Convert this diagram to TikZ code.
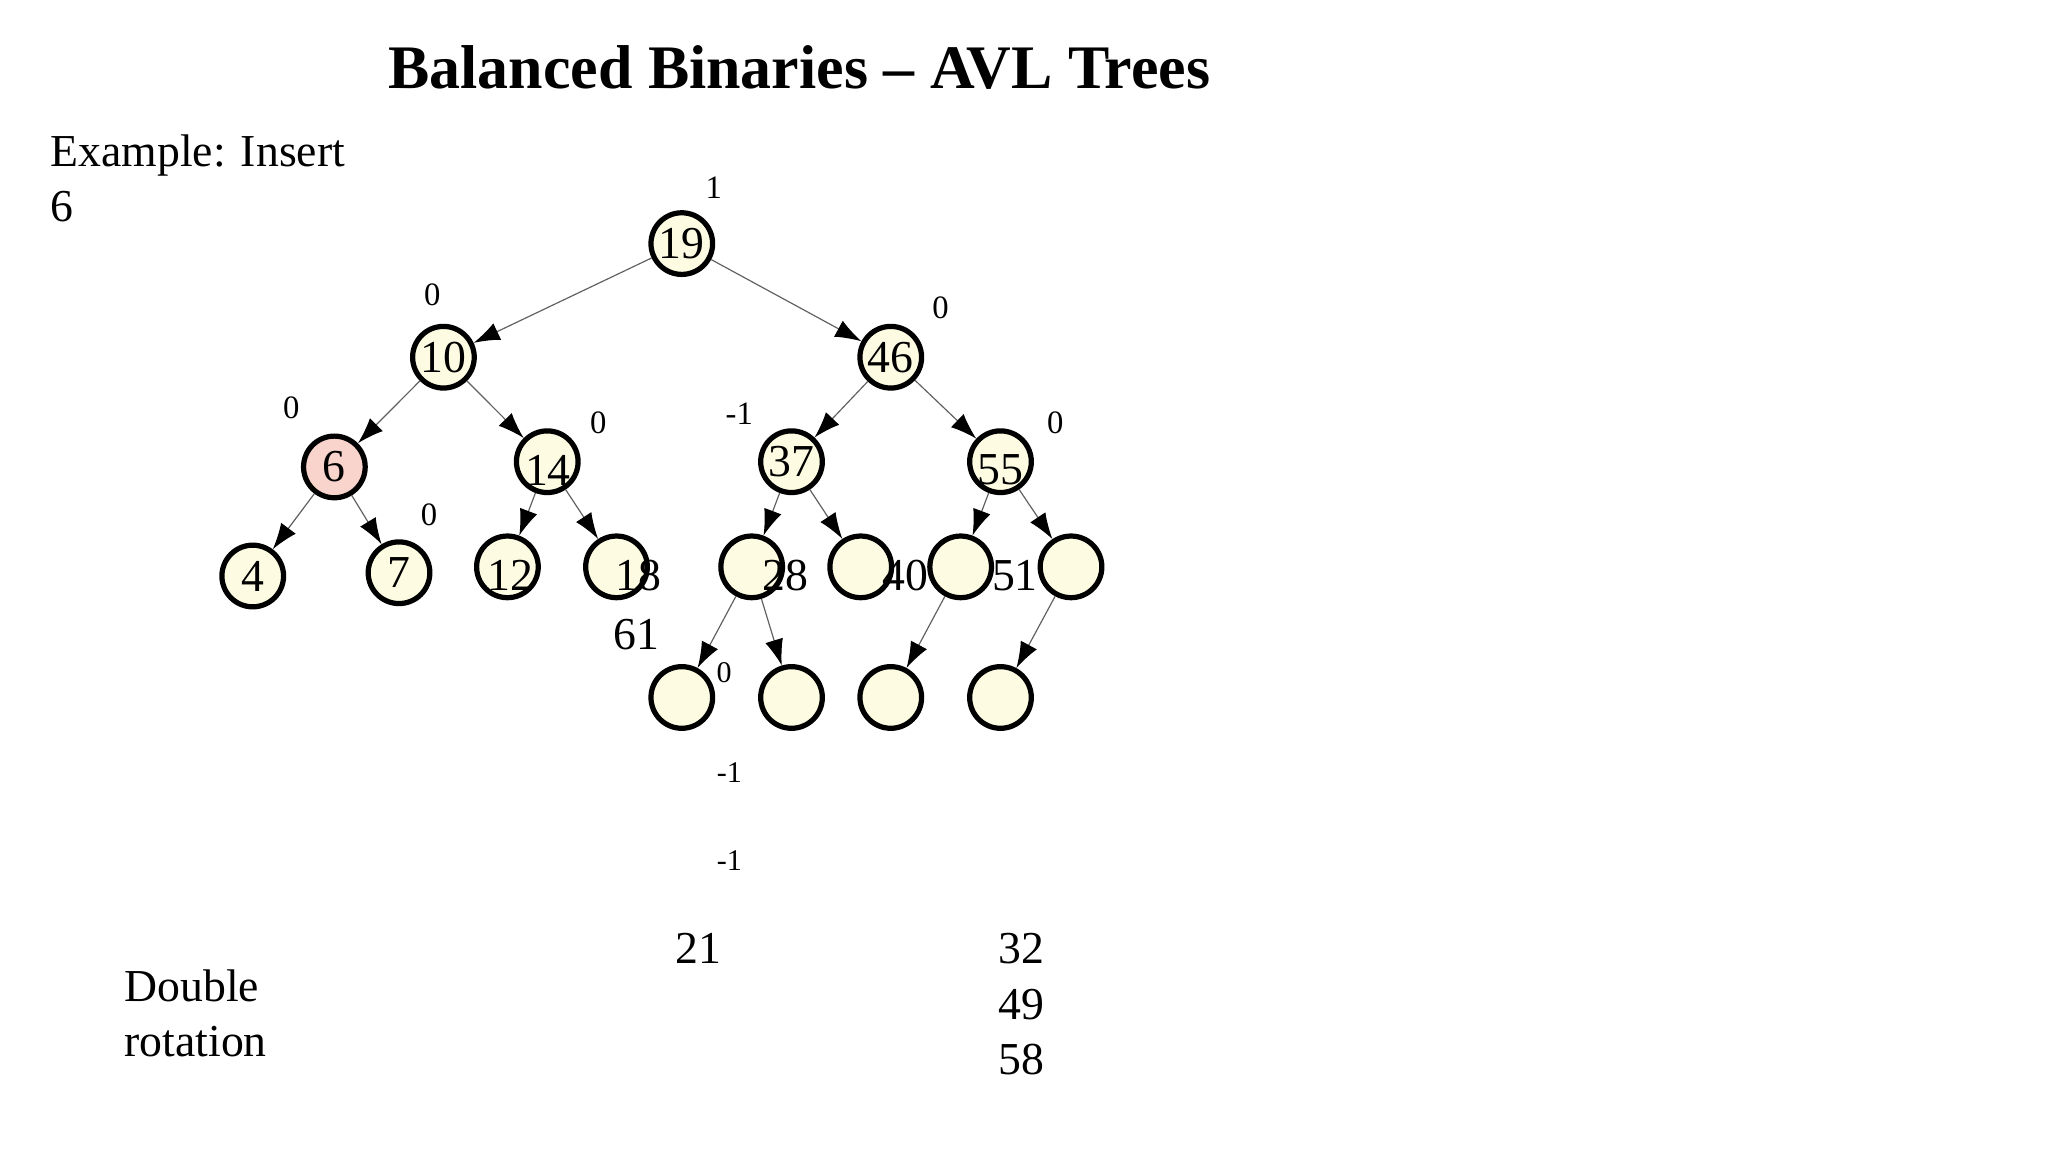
\documentclass[tikz,border=0pt]{standalone}
\usepackage{fontspec}
\setmainfont{Liberation Serif}
\usetikzlibrary{arrows.meta}
\definecolor{cream}{RGB}{253,252,226}
\definecolor{pinkfill}{RGB}{249,212,204}
\definecolor{edgegray}{RGB}{96,96,96}
\tikzset{
 tn/.style={circle, draw=black, line width=2pt, fill=cream, minimum size=23.6pt, inner sep=0pt, font=\fontsize{17.5}{21}\selectfont},
 txt/.style={inner sep=0pt, font=\fontsize{17.5}{21}\selectfont},
 bal/.style={inner sep=0pt, font=\fontsize{12.5}{15}\selectfont},
 sbal/.style={inner sep=0pt, font=\fontsize{11.5}{14}\selectfont},
 link/.style={draw=edgegray, line width=0.45pt, -{Latex[length=10pt,width=7pt,color=black]}},
}
\begin{document}
\begin{tikzpicture}[x=0.5pt,y=-0.5pt]
\useasboundingbox[fill=white] (0,0) rectangle (1568,882);
% title and side texts
\node[inner sep=0pt, font=\fontsize{23.7}{28}\selectfont\bfseries] (title) at (612,52) {Balanced Binaries – AVL Trees};
\node[txt, anchor=base west] (ex1) at (38.3,127.6) {Example: Insert};
\node[txt, anchor=base west] (ex2) at (38.3,169.7) {6};
\node[txt, anchor=base west] (dbl1) at (95,766.5) {Double};
\node[txt, anchor=base west] (dbl2) at (95,808.5) {rotation};
% tree nodes
\node[tn] (n19) at (522,186.5) {19};
\node[tn] (n10) at (339.5,273.5) {10};
\node[tn] (n46) at (682,273.5) {46};
\node[tn, fill=pinkfill] (n6) at (256,357.5) {6};
\node[tn] (n14) at (419,353.5) {};
\node[tn] (n37) at (606,353.5) {37};
\node[tn] (n55) at (766,353.5) {};
\node[tn] (n4) at (193.5,441) {4};
\node[tn] (n7) at (305.5,438.5) {7};
\node[tn] (n12) at (388.5,434) {};
\node[tn] (n18) at (472,434) {};
\node[tn] (n28) at (575.5,434) {};
\node[tn] (n40) at (659,434) {};
\node[tn] (n51) at (735.5,434) {};
\node[tn] (n61) at (820,434) {};
\node[tn] (b1) at (522,534) {};
\node[tn] (b2) at (606,534) {};
\node[tn] (b3) at (682,534) {};
\node[tn] (b4) at (766,534) {};
% offset value texts
\node[txt] (l14) at (419.5,360) {14};
\node[txt] (l55) at (766,360) {55};
\node[txt] (l12) at (391,440.5) {12};
\node[txt] (l18) at (488.5,440.5) {18};
\node[txt] (l28) at (601.5,440.5) {28};
\node[txt] (l40) at (693,440.5) {40};
\node[txt] (l51) at (777,440.5) {51};
\node[txt] (l61) at (487,486) {61};
\node[txt] (l21) at (534.6,726) {21};
\node[txt] (l32) at (782,726) {32};
\node[txt] (l49) at (782,769) {49};
\node[txt] (l58) at (782,811.5) {58};
% balance factors
\node[bal] (f19) at (546.5,144) {1};
\node[bal] (f10) at (331,226) {0};
\node[bal] (f46) at (720,236) {0};
\node[bal] (f6) at (223,312.5) {0};
\node[bal] (f14) at (458,324) {0};
\node[bal] (f37) at (566,317) {-1};
\node[bal] (f55) at (808,324) {0};
\node[bal] (f7) at (328.5,394) {0};
\node[sbal] (fb1) at (554.5,515) {0};
\node[sbal] (fm1) at (558.5,591.5) {-1};
\node[sbal] (fm2) at (558.5,659) {-1};
% edges
\draw[link] (n19) -- (n10);
\draw[link] (n19) -- (n46);
\draw[link] (n10) -- (n6);
\draw[link] (n10) -- (n14);
\draw[link] (n46) -- (n37);
\draw[link] (n46) -- (n55);
\draw[link] (n6) -- (n4);
\draw[link] (n6) -- (n7);
\draw[link] (n14) -- (n12);
\draw[link] (n14) -- (n18);
\draw[link] (n37) -- (n28);
\draw[link] (n37) -- (n40);
\draw[link] (n55) -- (n51);
\draw[link] (n55) -- (n61);
\draw[link] (n28) -- (b1);
\draw[link] (n28) -- (b2);
\draw[link] (n51) -- (b3);
\draw[link] (n61) -- (b4);
\end{tikzpicture}
\end{document}
